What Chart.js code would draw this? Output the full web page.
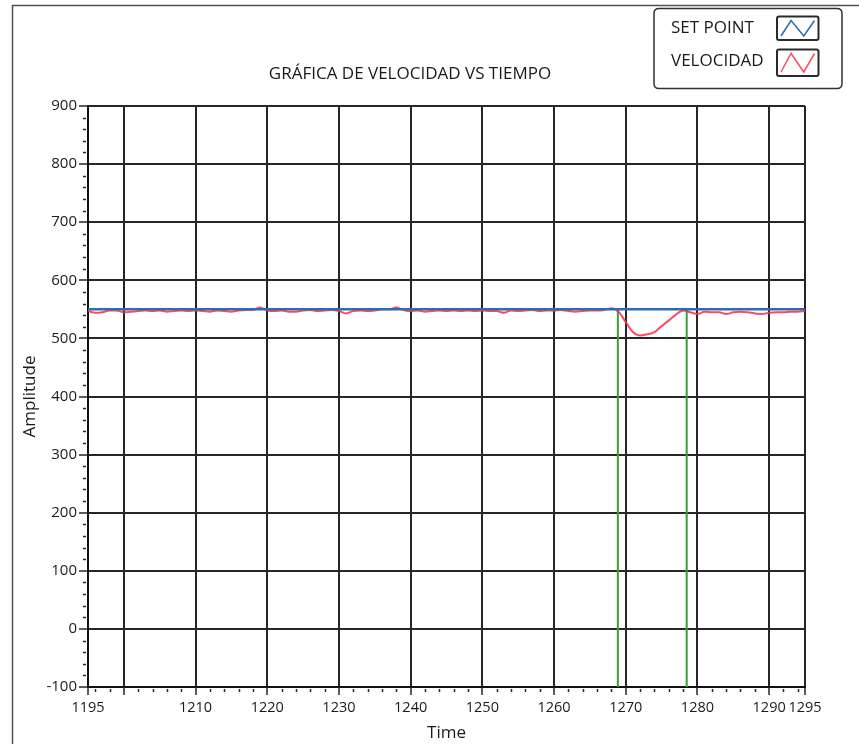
<!DOCTYPE html>
<html>
<head>
<meta charset="utf-8">
<script src="https://cdn.jsdelivr.net/npm/chart.js@4.4.1/dist/chart.umd.min.js"></script>
<style>
  html, body { margin: 0; padding: 0; background: #ffffff; }
  canvas { display: block; }
</style>
</head>
<body>
<canvas id="chart" width="859" height="744"></canvas>
<script>
// ---- data ----
const chartTitle = 'GRÁFICA DE VELOCIDAD VS TIEMPO';
const seriesNames = ['SET POINT', 'VELOCIDAD'];
const xAxisTitle = 'Time';
const yAxisTitle = 'Amplitude';

const setPointTimes = [1195, 1295];
const setPointValues = [550, 550];

// velocity samples, one per time unit starting at velocityStart
const velocityStart = 1195;
const velocityValues = [
  547, 544, 545, 548, 548, 545, 546, 547, 548, 547,
  548, 546, 547, 548, 547, 548, 547, 546, 548, 547,
  546, 548, 549, 549, 553, 548, 547, 548, 546, 546,
  548, 549, 547, 548, 549, 547, 543, 547, 548, 547,
  548, 550, 550, 553, 549, 547, 548, 546, 547, 548,
  547, 548, 547, 548, 547, 548, 547, 547, 544, 548,
  547, 548, 549, 547, 548, 548, 549, 547, 546, 547,
  548, 548, 549, 552, 546, 528, 511, 505, 507, 511,
  521, 531, 541, 548, 545, 542, 546, 545, 545, 542,
  545, 546, 545, 543, 542, 544, 545, 545, 546, 546,
  547
];

// cursor markers (time) and the vertical span they cover
const cursorTimes = [1268.9, 1278.5];
const cursorSpan = [550, -100];

const xTickLabels = [1195, 1210, 1220, 1230, 1240, 1250, 1260, 1270, 1280, 1290, 1295];
const xGridTimes = [1200, 1210, 1220, 1230, 1240, 1250, 1260, 1270, 1280, 1290];
const yTickValues = [-100, 0, 100, 200, 300, 400, 500, 600, 700, 800, 900];
const xMinorStep = 2;
const yMinorStep = 20;

// ---- styling ----
const FONT = '"Open Sans", "DejaVu Sans", sans-serif';
const TEXT = '#1a1a1a';
const GRID = '#262626';
const BLUE = '#2b6cb5';
const RED = 'rgba(255, 45, 65, 0.85)';
const GREEN = '#35a035';

const velocityPoints = velocityValues.map((v, i) => ({ x: velocityStart + i, y: v }));
const setPointPoints = setPointTimes.map((t, i) => ({ x: t, y: setPointValues[i] }));
const xTicks = Array.from(new Set([...xTickLabels, ...xGridTimes])).sort((a, b) => a - b);

const cursorDatasets = cursorTimes.map(t => ({
  label: '',
  data: cursorSpan.map(v => ({ x: t, y: v })),
  borderColor: GREEN,
  borderWidth: 2,
  pointRadius: 0,
  tension: 0
}));

// minor tick marks along both axes
const minorTicks = {
  id: 'minorTicks',
  afterDraw(chart) {
    const { ctx, chartArea: a } = chart;
    const x = chart.scales.x, y = chart.scales.y;
    ctx.save();
    ctx.strokeStyle = GRID;
    ctx.lineWidth = 1.5;
    ctx.beginPath();
    for (let v = x.min + 1; v < x.max; v += xMinorStep) {
      if (v % 10 === 0) continue;
      const px = Math.round(x.getPixelForValue(v)) + 0.5;
      ctx.moveTo(px, a.bottom + 2);
      ctx.lineTo(px, a.bottom + 5);
    }
    for (let v = y.min + yMinorStep; v < y.max; v += yMinorStep) {
      if (v % 100 === 0) continue;
      const py = Math.round(y.getPixelForValue(v)) + 0.5;
      ctx.moveTo(a.left - 5, py);
      ctx.lineTo(a.left - 2, py);
    }
    ctx.stroke();
    ctx.restore();
  }
};

function roundRect(ctx, x, y, w, h, r) {
  ctx.beginPath();
  ctx.moveTo(x + r, y);
  ctx.lineTo(x + w - r, y);
  ctx.quadraticCurveTo(x + w, y, x + w, y + r);
  ctx.lineTo(x + w, y + h - r);
  ctx.quadraticCurveTo(x + w, y + h, x + w - r, y + h);
  ctx.lineTo(x + r, y + h);
  ctx.quadraticCurveTo(x, y + h, x, y + h - r);
  ctx.lineTo(x, y + r);
  ctx.quadraticCurveTo(x, y, x + r, y);
  ctx.closePath();
}

// panel frame and the plot legend in the top-right corner
const panelDecor = {
  id: 'panelDecor',
  afterDraw(chart) {
    const { ctx } = chart;
    ctx.save();
    ctx.strokeStyle = '#505050';
    ctx.lineWidth = 1.5;
    ctx.beginPath();
    ctx.moveTo(12.5, chart.height);
    ctx.lineTo(12.5, 5.5);
    ctx.lineTo(chart.width, 5.5);
    ctx.stroke();

    roundRect(ctx, 654, 8.5, 188, 80, 5);
    ctx.fillStyle = '#ffffff';
    ctx.fill();
    ctx.strokeStyle = '#333333';
    ctx.lineWidth = 1.5;
    ctx.stroke();

    const rows = [
      { ds: chart.data.datasets[0], ty: 28, box: [777, 16.5, 41.5, 23.5] },
      { ds: chart.data.datasets[1], ty: 61, box: [777, 49.5, 41.5, 26.5] }
    ];
    ctx.font = '17px ' + FONT;
    ctx.textBaseline = 'middle';
    ctx.textAlign = 'left';
    rows.forEach(r => {
      ctx.fillStyle = TEXT;
      ctx.fillText(r.ds.label, 671, r.ty);
      const [bx, by, bw, bh] = r.box;
      roundRect(ctx, bx, by, bw, bh, 2);
      ctx.strokeStyle = '#2a2a2a';
      ctx.lineWidth = 2;
      ctx.stroke();
      const l = bx + 4, rgt = bx + bw - 4, t = by + 4, b = by + bh - 4;
      ctx.beginPath();
      ctx.moveTo(l, b);
      ctx.lineTo(l + (rgt - l) * 0.3, t);
      ctx.lineTo(l + (rgt - l) * 0.68, b);
      ctx.lineTo(rgt, t);
      ctx.strokeStyle = r.ds.borderColor;
      ctx.lineWidth = 1.5;
      ctx.stroke();
    });
    ctx.restore();
  }
};

new Chart(document.getElementById('chart'), {
  type: 'line',
  data: {
    datasets: [
      {
        label: seriesNames[0],
        data: setPointPoints,
        borderColor: BLUE,
        borderWidth: 2.5,
        pointRadius: 0,
        tension: 0
      },
      {
        label: seriesNames[1],
        data: velocityPoints,
        borderColor: RED,
        borderWidth: 2,
        pointRadius: 0,
        cubicInterpolationMode: 'monotone'
      },
      ...cursorDatasets
    ]
  },
  options: {
    responsive: false,
    animation: false,
    devicePixelRatio: 1,
    layout: { padding: { left: 15, right: 54, top: 0, bottom: 0 } },
    plugins: {
      legend: { display: false },
      tooltip: { enabled: false },
      title: {
        display: true,
        text: chartTitle,
        color: TEXT,
        font: { family: FONT, size: 17, weight: 'normal' },
        padding: { top: 63.8, bottom: 21.8 }
      }
    },
    scales: {
      x: {
        type: 'linear',
        min: 1195,
        max: 1295,
        afterBuildTicks: s => { s.ticks = xTicks.map(v => ({ value: v })); },
        afterFit: s => { s.height = 57; s.paddingLeft = 0; s.paddingRight = 0; },
        ticks: {
          autoSkip: false,
          maxRotation: 0,
          padding: 4,
          color: TEXT,
          font: { family: FONT, size: 14.5 },
          callback: v => xTickLabels.includes(v) ? String(v) : ''
        },
        grid: { color: GRID, lineWidth: 2, tickLength: 8, tickColor: GRID, tickWidth: 1.5 },
        border: { display: true, color: '#111111', width: 2 },
        title: {
          display: true,
          text: xAxisTitle,
          color: TEXT,
          font: { family: FONT, size: 17 },
          padding: { top: 0, bottom: 0.8 }
        }
      },
      y: {
        type: 'linear',
        min: -100,
        max: 900,
        afterBuildTicks: s => { s.ticks = yTickValues.map(v => ({ value: v })); },
        afterFit: s => { s.width = 73; s.paddingTop = 0; s.paddingBottom = 0; },
        ticks: {
          autoSkip: false,
          padding: 2,
          color: TEXT,
          font: { family: FONT, size: 15 },
          callback: v => String(v)
        },
        grid: { color: GRID, lineWidth: 2, tickLength: 9, tickColor: GRID, tickWidth: 1.5 },
        border: { display: true, color: '#111111', width: 2 },
        title: {
          display: true,
          text: yAxisTitle,
          color: TEXT,
          font: { family: FONT, size: 17 },
          padding: { top: 4.8, bottom: 0 }
        }
      }
    }
  },
  plugins: [minorTicks, panelDecor]
});
</script>
</body>
</html>
